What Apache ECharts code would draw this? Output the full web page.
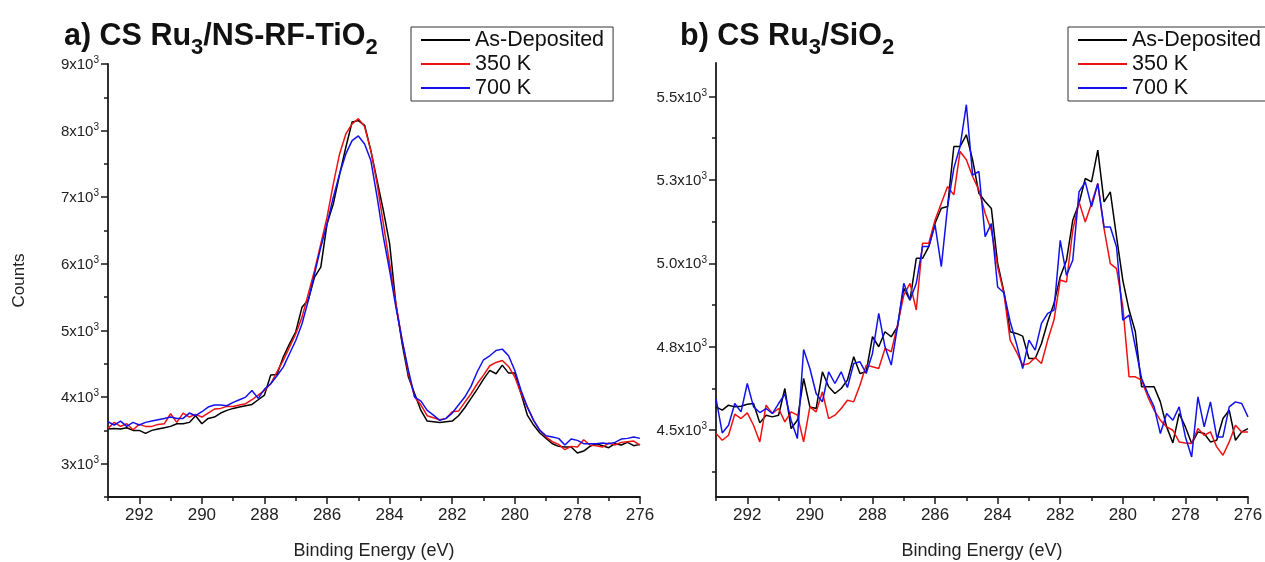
<!DOCTYPE html>
<html><head><meta charset="utf-8">
<script src="https://cdn.jsdelivr.net/npm/echarts@6/dist/echarts.min.js"></script>
<style>html,body{margin:0;padding:0;background:#fff}#c{width:1265px;height:562px}</style>
</head><body><div id="c"></div><script>
// Binding energies (eV), shared by all series
const energies = [
  293.0, 292.8, 292.6, 292.4, 292.2, 292.0, 291.8, 291.6, 291.4, 291.2,
  291.0, 290.8, 290.6, 290.4, 290.2, 290.0, 289.8, 289.6, 289.4, 289.2,
  289.0, 288.8, 288.6, 288.4, 288.2, 288.0, 287.8, 287.6, 287.4, 287.2,
  287.0, 286.8, 286.6, 286.4, 286.2, 286.0, 285.8, 285.6, 285.4, 285.2,
  285.0, 284.8, 284.6, 284.4, 284.2, 284.0, 283.8, 283.6, 283.4, 283.2,
  283.0, 282.8, 282.6, 282.4, 282.2, 282.0, 281.8, 281.6, 281.4, 281.2,
  281.0, 280.8, 280.6, 280.4, 280.2, 280.0, 279.8, 279.6, 279.4, 279.2,
  279.0, 278.8, 278.6, 278.4, 278.2, 278.0, 277.8, 277.6, 277.4, 277.2,
  277.0, 276.8, 276.6, 276.4, 276.2, 276.0
];
const seriesNames = ['As-Deposited', '350 K', '700 K'];
const seriesColors = ['#000000', '#ee1111', '#1111ee'];

// Panel a: CS Ru3/NS-RF-TiO2
const aAsDeposited = [
  3520, 3530, 3520, 3540, 3500, 3500, 3455, 3500, 3520, 3540,
  3560, 3600, 3600, 3620, 3720, 3600, 3680, 3700, 3760, 3800,
  3830, 3850, 3870, 3890, 3960, 4030, 4330, 4340, 4600, 4800,
  4980, 5350, 5460, 5800, 5950, 6600, 6900, 7340, 7750, 8130,
  8150, 8080, 7700, 7250, 6800, 6300, 5400, 4800, 4300, 4050,
  3800, 3640, 3630, 3620, 3630, 3640, 3720, 3840, 3980, 4120,
  4270, 4400, 4350, 4480, 4360, 4360, 4050, 3730, 3580, 3460,
  3380, 3300, 3260, 3250, 3250, 3160, 3190, 3260, 3300, 3270,
  3240, 3300, 3280, 3320, 3270, 3290
];
const a350K = [
  3530, 3620, 3560, 3600, 3510, 3590, 3560, 3560, 3590, 3600,
  3750, 3620, 3760, 3700, 3740, 3700, 3760, 3820, 3830, 3860,
  3860, 3880, 3900, 3960, 4030, 4100, 4200, 4380, 4550, 4750,
  4950, 5200, 5550, 5900, 6300, 6700, 7200, 7650, 7950, 8100,
  8180, 8060, 7700, 7200, 6600, 6000, 5400, 4850, 4350, 4000,
  3880, 3720, 3690, 3660, 3680, 3780, 3790, 3920, 4050, 4200,
  4330, 4470, 4520, 4550, 4460, 4300, 4050, 3850, 3650, 3500,
  3400, 3330, 3290, 3210, 3260, 3250, 3360, 3280, 3270, 3250,
  3310, 3280, 3320, 3330, 3340, 3280
];
const a700K = [
  3630, 3580, 3640, 3560, 3620, 3580, 3620, 3640, 3660, 3680,
  3700, 3680, 3680, 3760, 3720, 3780, 3850, 3880, 3880, 3870,
  3920, 3960, 4000, 4100, 3980, 4120, 4200, 4320, 4450, 4650,
  4850, 5100, 5450, 5850, 6250, 6600, 7000, 7350, 7650, 7850,
  7920, 7800, 7550, 7000, 6400, 5900, 5350, 4850, 4400, 4000,
  3940, 3800, 3730, 3650, 3680, 3760, 3880, 4000, 4160, 4380,
  4560, 4620, 4700, 4720, 4620, 4400, 4100, 3850, 3650, 3500,
  3420, 3400, 3380, 3280, 3370, 3350, 3300, 3300, 3300, 3310,
  3300, 3320, 3370, 3380, 3400, 3380
];

// Panel b: CS Ru3/SiO2
const bAsDeposited = [
  4570, 4560, 4575, 4570, 4572, 4578, 4580, 4522, 4545, 4540,
  4545, 4625, 4505, 4530, 4655, 4570, 4565, 4675, 4630, 4610,
  4625, 4650, 4720, 4670, 4675, 4780, 4750, 4795, 4780, 4810,
  4925, 4890, 5015, 5015, 5050, 5120, 5165, 5170, 5350, 5350,
  5385, 5310, 5210, 5185, 5164, 5000, 4915, 4795, 4790, 4782,
  4715, 4715, 4760, 4825, 4880, 4960, 5009, 5129, 5179, 5254,
  5244, 5339, 5184, 5214, 5079, 4949, 4860, 4795, 4630, 4630,
  4630, 4585, 4510, 4462, 4550, 4510, 4460, 4495, 4490, 4465,
  4470, 4535, 4560, 4470, 4495, 4505
];
const b350K = [
  4490, 4470, 4485, 4548, 4535, 4552, 4515, 4465, 4575, 4550,
  4565, 4525, 4555, 4545, 4465, 4570, 4555, 4615, 4535, 4545,
  4565, 4590, 4585, 4635, 4695, 4690, 4685, 4745, 4735, 4815,
  4905, 4940, 4860, 5060, 5060, 5130, 5180, 5230, 5205, 5335,
  5310, 5260, 5220, 5150, 5099, 4989, 4910, 4770, 4735, 4695,
  4700, 4718, 4700, 4770, 4830, 4950, 4944, 5099, 5184, 5124,
  5179, 5239, 5104, 4999, 4984, 4870, 4660, 4660, 4650, 4600,
  4560, 4530, 4510, 4500, 4465, 4462, 4460, 4505, 4485, 4495,
  4450, 4425, 4465, 4515, 4495, 4495
];
const b700K = [
  4595, 4492, 4515, 4580, 4555, 4640, 4570, 4553, 4565, 4550,
  4580, 4608, 4530, 4475, 4742, 4685, 4610, 4585, 4675, 4640,
  4675, 4628, 4700, 4705, 4670, 4730, 4850, 4750, 4695, 4810,
  4940, 4890, 4940, 5050, 5050, 5115, 4990, 5170, 5285, 5350,
  5475, 5264, 5275, 5080, 5119, 4929, 4912, 4825, 4760, 4685,
  4770, 4740, 4820, 4850, 4860, 5069, 4964, 5009, 5214, 5244,
  5169, 5239, 5109, 5109, 5049, 4830, 4845, 4750, 4655, 4610,
  4570, 4490, 4550, 4530, 4570, 4480, 4420, 4600, 4510, 4585,
  4480, 4480, 4570, 4585, 4580, 4540
];

// Tick values and labels
const xTicks = [292, 290, 288, 286, 284, 282, 280, 278, 276];
const xMinorTicks = [293, 291, 289, 287, 285, 283, 281, 279, 277];
const yTicksA = [3000, 4000, 5000, 6000, 7000, 8000, 9000];
const yTickLabelsA = ['3', '4', '5', '6', '7', '8', '9'];
const yMinorA = [2500, 3500, 4500, 5500, 6500, 7500, 8500];
const yTicksB = [4500, 4750, 5000, 5250, 5500];
const yTickLabelsB = ['4.5', '4.8', '5.0', '5.3', '5.5'];
const yMinorB = [4375, 4625, 4875, 5125, 5375];

const FONT = '"Liberation Sans", Arial, sans-serif';
const AXC = '#1a1a1a';
const TXT = '#222';

function supRich() {
  return {
    b: { fontSize: 15, fontFamily: FONT, color: TXT, lineHeight: 17, verticalAlign: 'bottom' },
    s: { fontSize: 10, fontFamily: FONT, color: TXT, lineHeight: 11, verticalAlign: 'top' }
  };
}
function labelFormatter(ticks, labels) {
  return function (v) {
    const i = ticks.indexOf(v);
    if (i < 0) return '';
    return '{b|' + labels[i] + 'x10}{s|3}';
  };
}
function titleRich() {
  return {
    t: { fontSize: 30.5, fontWeight: 'bold', fontFamily: FONT, color: '#111', lineHeight: 31, verticalAlign: 'top' },
    s: { fontSize: 22, fontWeight: 'bold', fontFamily: FONT, color: '#111', lineHeight: 22, padding: [16, 0, 0, 0], verticalAlign: 'top' }
  };
}
function xMain(gi) {
  return {
    gridIndex: gi, type: 'value', min: 276, max: 293, inverse: true, position: 'bottom',
    axisLine: { show: true, lineStyle: { color: AXC, width: 1.8 } },
    axisTick: { show: true, customValues: xTicks, length: 7, lineStyle: { color: AXC, width: 1.5 } },
    axisLabel: { customValues: xTicks, fontSize: 17, color: TXT, fontFamily: FONT, margin: 10 },
    splitLine: { show: false },
    name: 'Binding Energy (eV)', nameLocation: 'middle', nameGap: 45,
    nameTextStyle: { fontSize: 18, color: TXT, fontFamily: FONT }
  };
}
function xMinor(gi) {
  return {
    gridIndex: gi, type: 'value', min: 276, max: 293, inverse: true, position: 'bottom',
    axisLine: { show: false },
    axisTick: { show: true, customValues: xMinorTicks, length: 4, lineStyle: { color: AXC, width: 1.5 } },
    axisLabel: { show: false }, splitLine: { show: false }
  };
}
function yMain(gi, min, max, ticks, labels, extra) {
  return Object.assign({
    gridIndex: gi, type: 'value', min: min, max: max, position: 'left',
    axisLine: { show: true, lineStyle: { color: AXC, width: 1.8 } },
    axisTick: { show: true, customValues: ticks, length: 7, lineStyle: { color: AXC, width: 1.5 } },
    axisLabel: { customValues: ticks, formatter: labelFormatter(ticks, labels), rich: supRich(), margin: 9 },
    splitLine: { show: false }
  }, extra || {});
}
function yMinorAxis(gi, min, max, ticks) {
  return {
    gridIndex: gi, type: 'value', min: min, max: max, position: 'left',
    axisLine: { show: false },
    axisTick: { show: true, customValues: ticks, length: 4, lineStyle: { color: AXC, width: 1.5 } },
    axisLabel: { show: false }, splitLine: { show: false }
  };
}
function pairs(vals) { return energies.map((e, i) => [e, vals[i]]); }
function line(name, color, vals, axisIdx) {
  return {
    name: name, type: 'line', xAxisIndex: axisIdx, yAxisIndex: axisIdx,
    data: pairs(vals), symbol: 'none', showSymbol: false,
    lineStyle: { color: color, width: 1.5 }, itemStyle: { color: color },
    emphasis: { disabled: true }
  };
}
function legend(left) {
  return {
    orient: 'vertical', left: left, top: 27, data: seriesNames,
    icon: 'rect', itemWidth: 49, itemHeight: 2, itemGap: 2,
    padding: [2, 9, 2, 10], borderColor: '#333', borderWidth: 1,
    textStyle: { fontSize: 21.5, fontFamily: FONT, color: '#111', lineHeight: 21 }
  };
}

const chart = echarts.init(document.getElementById('c'), null, { renderer: 'canvas' });
chart.setOption({
  animation: false,
  backgroundColor: '#ffffff',
  title: [
    { text: '{t|a) CS Ru}{s|3}{t|/NS-RF-TiO}{s|2}', left: 64, top: 21, padding: 0, textStyle: { rich: titleRich() } },
    { text: '{t|b) CS Ru}{s|3}{t|/SiO}{s|2}', left: 680, top: 21, padding: 0, textStyle: { rich: titleRich() } }
  ],
  legend: [legend(411), legend(1068)],
  grid: [
    { left: 108, top: 64, width: 532, height: 433, containLabel: false, outerBoundsMode: 'none' },
    { left: 716, top: 63, width: 532, height: 434, containLabel: false, outerBoundsMode: 'none' }
  ],
  xAxis: [xMain(0), xMinor(0), xMain(1), xMinor(1)],
  yAxis: [
    yMain(0, 2500, 9000, yTicksA, yTickLabelsA, {
      name: 'Counts', nameLocation: 'middle', nameGap: 80,
      nameTextStyle: { fontSize: 17, color: TXT, fontFamily: FONT }
    }),
    yMinorAxis(0, 2500, 9000, yMinorA),
    yMain(1, 4300, 5600, yTicksB, yTickLabelsB),
    yMinorAxis(1, 4300, 5600, yMinorB)
  ],
  series: [
    line(seriesNames[0], seriesColors[0], aAsDeposited, 0),
    line(seriesNames[1], seriesColors[1], a350K, 0),
    line(seriesNames[2], seriesColors[2], a700K, 0),
    line(seriesNames[0], seriesColors[0], bAsDeposited, 2),
    line(seriesNames[1], seriesColors[1], b350K, 2),
    line(seriesNames[2], seriesColors[2], b700K, 2)
  ]
});
</script></body></html>
